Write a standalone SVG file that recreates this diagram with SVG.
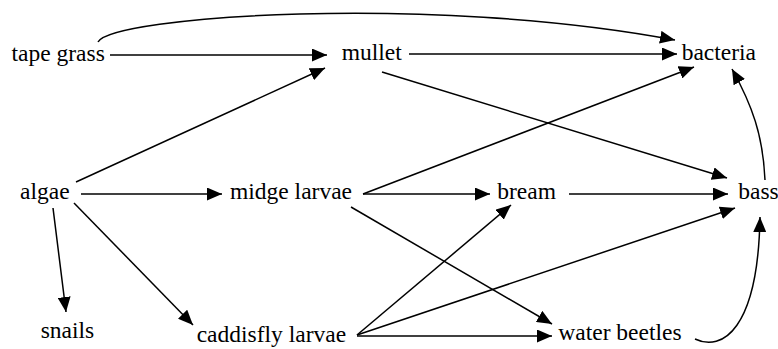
<svg xmlns="http://www.w3.org/2000/svg" width="778" height="349" viewBox="0 0 778 349">
<defs>
<marker id="ah" markerUnits="userSpaceOnUse" markerWidth="16" markerHeight="13" refX="15" refY="6.5" orient="auto">
<path d="M0,0 L15,6.5 L0,13 z" fill="#000"/>
</marker>
<style>
.e{fill:none;stroke:#000;stroke-width:1.5;marker-end:url(#ah)}
</style>
</defs>
<rect width="778" height="349" fill="#fff"/>
<g id="edges">
<path class="e" d="M98,42 C112,16 430,-6 675,40"/>
<path class="e" d="M110,55 L327,55"/>
<path class="e" d="M76,182 L325,68"/>
<path class="e" d="M409,54 L677,54"/>
<path class="e" d="M382,72 L727,178"/>
<path class="e" d="M363,194 L694,67"/>
<path class="e" d="M765,180 C763,135 752,105 732,69"/>
<path class="e" d="M81,194 L222,194"/>
<path class="e" d="M53,208 L66,312"/>
<path class="e" d="M74,203 L193,325"/>
<path class="e" d="M363,194 L490,194"/>
<path class="e" d="M351,207 L552,324"/>
<path class="e" d="M569,194 L728,194"/>
<path class="e" d="M357,335 L511,205"/>
<path class="e" d="M357,335 L735,208"/>
<path class="e" d="M357,336 L552,336"/>
<path class="e" d="M695,339 C722,352 758,330 760,217"/>
</g>
<g font-size="23.5" fill="#000">
<g id="tape_grass"><text font-family="Tinos, Times New Roman, Liberation Serif, serif" x="11.5" y="61">tape grass</text></g>
<g id="mullet"><text font-family="Tinos, Times New Roman, Liberation Serif, serif" x="341.7" y="60">mullet</text></g>
<g id="bacteria"><text font-family="Tinos, Times New Roman, Liberation Serif, serif" x="681.7" y="60">bacteria</text></g>
<g id="algae"><text font-family="Tinos, Times New Roman, Liberation Serif, serif" x="20" y="199">algae</text></g>
<g id="midge_larvae"><text font-family="Tinos, Times New Roman, Liberation Serif, serif" x="230" y="199">midge larvae</text></g>
<g id="bream"><text font-family="Tinos, Times New Roman, Liberation Serif, serif" x="497.3" y="199">bream</text></g>
<g id="bass"><text font-family="Tinos, Times New Roman, Liberation Serif, serif" x="738.3" y="199">bass</text></g>
<g id="snails"><text font-family="Tinos, Times New Roman, Liberation Serif, serif" x="40.7" y="338">snails</text></g>
<g id="caddisfly_larvae"><text font-family="Tinos, Times New Roman, Liberation Serif, serif" x="196.7" y="341.5">caddisfly larvae</text></g>
<g id="water_beetles"><text font-family="Tinos, Times New Roman, Liberation Serif, serif" x="558.3" y="340">water beetles</text></g>
</g>
</svg>
